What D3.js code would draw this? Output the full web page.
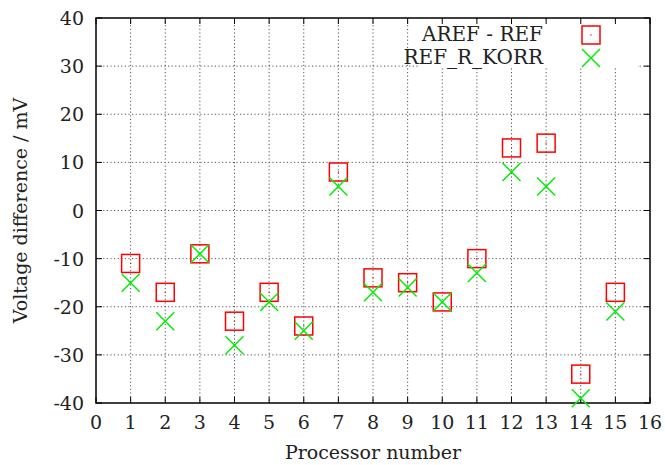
<html>
<head>
<script src="https://d3js.org/d3.v7.min.js"></script>
<style>
  body { margin: 0; background: #fff; }
  .grid line { stroke: #555; stroke-width: 1; stroke-dasharray: 1.2 2.4; }
</style>
</head>
<body>
<svg id="chart" width="665" height="465"></svg>
<script>
const processors = [1, 2, 3, 4, 5, 6, 7, 8, 9, 10, 11, 12, 13, 14, 15];
const arefMinusRef = [-11, -17, -9, -23, -17, -24, 8, -14, -15, -19, -10, 13, 14, -34, -17];
const refRKorr = [-15, -23, -9, -28, -19, -25, 5, -17, -16, -19, -13, 8, 5, -39, -21];
const xTicks = d3.range(0, 17);
const yTicks = [-40, -30, -20, -10, 0, 10, 20, 30, 40];
const seriesNames = ["AREF - REF", "REF_R_KORR"];

const svg = d3.select('#chart')
  .style('font-family', '"DejaVu Serif", "Liberation Serif", serif')
  .attr('fill', '#222');
const margin = { top: 18, right: 15, bottom: 62, left: 96 };
const width = 665 - margin.left - margin.right;
const height = 465 - margin.top - margin.bottom;

const x = d3.scaleLinear().domain([0, 16]).range([0, width]);
const y = d3.scaleLinear().domain([-40, 40]).range([height, 0]);

const g = svg.append('g').attr('transform', `translate(${margin.left},${margin.top})`);

// grid
g.append('g').attr('class', 'grid')
  .selectAll('line').data(xTicks.slice(1, -1)).join('line')
  .attr('x1', d => x(d)).attr('x2', d => x(d))
  .attr('y1', 0).attr('y2', height);
g.append('g').attr('class', 'grid')
  .selectAll('line').data(yTicks.slice(1, -1)).join('line')
  .attr('x1', 0).attr('x2', width)
  .attr('y1', d => y(d)).attr('y2', d => y(d));

// legend background covers grid
g.append('rect').attr('x', 324).attr('y', 2).attr('width', 217).attr('height', 48).attr('fill', '#fff');

// ticks (inward, mirrored)
const tk = 6;
const ticks = g.append('g').attr('stroke', '#000').attr('stroke-width', 1);
xTicks.forEach(d => {
  ticks.append('line').attr('x1', x(d)).attr('x2', x(d)).attr('y1', height).attr('y2', height - tk);
  ticks.append('line').attr('x1', x(d)).attr('x2', x(d)).attr('y1', 0).attr('y2', tk);
});
yTicks.forEach(d => {
  ticks.append('line').attr('x1', 0).attr('x2', tk).attr('y1', y(d)).attr('y2', y(d));
  ticks.append('line').attr('x1', width).attr('x2', width - tk).attr('y1', y(d)).attr('y2', y(d));
});

g.append('rect').attr('width', width).attr('height', height)
  .attr('fill', 'none').attr('stroke', '#000').attr('stroke-width', 1.5);

// tick labels
g.append('g').selectAll('text').data(xTicks).join('text')
  .attr('x', d => x(d)).attr('y', height + 26)
  .attr('text-anchor', 'middle').attr('font-size', 19)
  .text(d => d);
g.append('g').selectAll('text').data(yTicks).join('text')
  .attr('x', -12).attr('y', d => y(d) + 7)
  .attr('text-anchor', 'end').attr('font-size', 19)
  .text(d => d);

// axis titles
svg.append('text').attr('x', margin.left + width / 2).attr('y', 459)
  .attr('text-anchor', 'middle').attr('font-size', 19).text('Processor number');
svg.append('text').attr('transform', `translate(27,${margin.top + height / 2}) rotate(-90)`)
  .attr('text-anchor', 'middle').attr('font-size', 19).text('Voltage difference / mV');

const s = 9;
function drawSquare(sel, cx, cy) {
  sel.append('rect').attr('x', cx - s).attr('y', cy - s).attr('width', 2 * s).attr('height', 2 * s)
    .attr('fill', 'none').attr('stroke', '#f00').attr('stroke-width', 1.5);
  sel.append('rect').attr('x', cx - 0.6).attr('y', cy - 0.6).attr('width', 1.2).attr('height', 1.2).attr('fill', '#f00');
}
function drawCross(sel, cx, cy) {
  sel.append('path').attr('d', `M${cx - s},${cy - s}L${cx + s},${cy + s}M${cx - s},${cy + s}L${cx + s},${cy - s}`)
    .attr('stroke', '#0e0').attr('stroke-width', 1.5).attr('fill', 'none');
}

const pts = g.append('g');
processors.forEach((p, i) => drawSquare(pts, x(p), y(arefMinusRef[i])));
processors.forEach((p, i) => drawCross(pts, x(p), y(refRKorr[i])));

// legend
const lg = g.append('g');
lg.append('text').attr('x', 447).attr('y', 23).attr('text-anchor', 'end').attr('font-size', 20).text(seriesNames[0]);
lg.append('text').attr('x', 447).attr('y', 46).attr('text-anchor', 'end').attr('font-size', 20).text(seriesNames[1]);
drawSquare(lg, 495, 17);
drawCross(lg, 495, 40);
</script>
</body>
</html>
